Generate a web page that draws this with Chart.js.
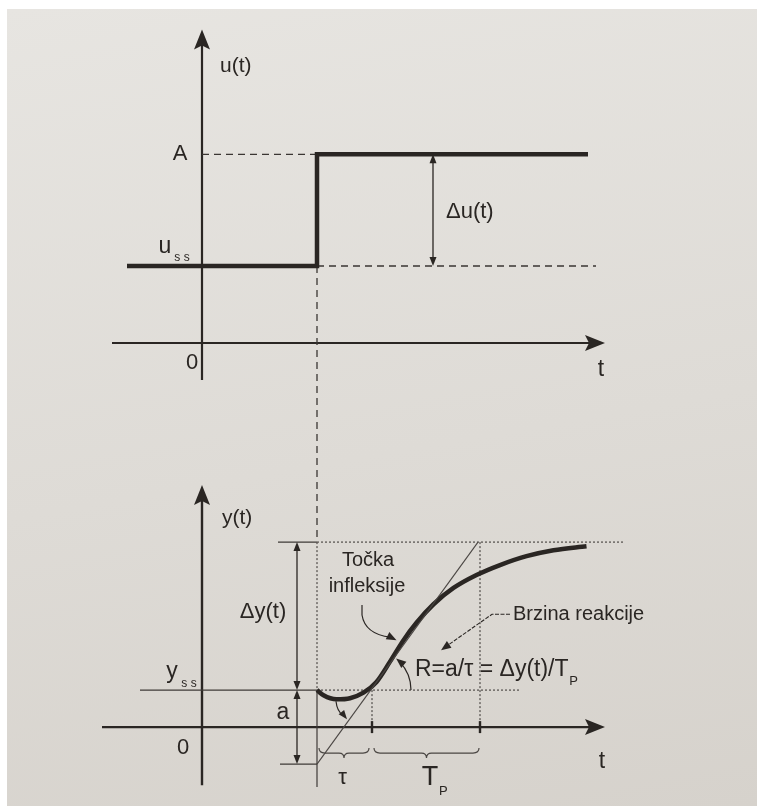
<!DOCTYPE html>
<html>
<head>
<meta charset="utf-8">
<script src="https://cdn.jsdelivr.net/npm/chart.js@4/dist/chart.umd.min.js"></script>
<style>
  html, body { margin: 0; padding: 0; background: #fff; }
  #wrap {
    position: absolute; left: 7px; top: 9px; width: 750px; height: 797px;
    background: linear-gradient(170deg, #e7e5e1 0%, #dedbd6 55%, #d6d2cc 100%);
  }
  canvas { position: absolute; left: 0; top: 0; }
</style>
</head>
<body>
<div id="wrap"></div>
<canvas id="chart" width="757" height="806"></canvas>
<script>
// Step input u(t)
const stepT = [-1.5, 2.3, 2.3, 7.72];
const stepU = [1, 1, 2.45, 2.45];

// Process reaction curve y(t)
const respT = [2.3, 2.43, 2.69, 2.96, 3.23, 3.49, 3.76, 4.03, 4.29, 4.63, 5.03, 5.49, 5.96, 6.49, 7.03, 7.69];
const respY = [1.0, 0.86, 0.75, 0.78, 0.93, 1.22, 1.77, 2.35, 2.82, 3.32, 3.76, 4.11, 4.38, 4.62, 4.78, 4.89];

// Tangent through the inflection point
const tangentT = [2.3, 5.52];
const tangentY = [-1, 5];

// Levels and times marked on the axes
const uSS = 1, uA = 2.45;
const ySS = 1, yEnd = 5, aLow = -1;
const tStep = 2.3, tTau = 3.4, tP = 5.56;

const toXY = (xs, ys) => xs.map((x, i) => ({ x: x, y: ys[i] }));

const INK = '#2a2623';
const FONT = '"Liberation Sans", Arial, sans-serif';

const annotations = {
  id: 'annotations',
  beforeDatasetsDraw(chart) {
    const ctx = chart.ctx;
    const sx = chart.scales.x, su = chart.scales.yU, sy = chart.scales.yY;
    const X = v => sx.getPixelForValue(v);
    const YU = v => su.getPixelForValue(v);
    const YY = v => sy.getPixelForValue(v);

    const line = (x1, y1, x2, y2, w, dash, col) => {
      ctx.save();
      ctx.strokeStyle = col || INK;
      ctx.lineWidth = w;
      ctx.setLineDash(dash || []);
      ctx.beginPath();
      ctx.moveTo(x1, y1);
      ctx.lineTo(x2, y2);
      ctx.stroke();
      ctx.restore();
    };
    const head = (x, y, ang, len, half) => {
      ctx.save();
      ctx.fillStyle = INK;
      ctx.translate(x, y);
      ctx.rotate(ang);
      ctx.beginPath();
      ctx.moveTo(0, 0);
      ctx.lineTo(-len, -half);
      ctx.lineTo(-len * 0.8, 0);
      ctx.lineTo(-len, half);
      ctx.closePath();
      ctx.fill();
      ctx.restore();
    };

    // axes, top panel
    line(X(-1.8), YU(0), X(8.06) - 10, YU(0), 2.2);
    head(X(8.06), YU(0), 0, 20, 8);
    line(X(0), YU(-0.48), X(0), YU(4.07) + 10, 2.2);
    head(X(0), YU(4.07), -Math.PI / 2, 20, 8);

    // axes, bottom panel
    line(X(-2.0), YY(0), X(8.06) - 10, YY(0), 2.4);
    head(X(8.06), YY(0), 0, 20, 8);
    line(X(0), YY(-1.57), X(0), YY(6.54) + 10, 2.4);
    head(X(0), YY(6.54), -Math.PI / 2, 20, 8);

    // dashed guides, top panel
    const dash = [7, 5];
    line(X(0), YU(uA), X(tStep), YU(uA), 1.3, dash, '#3a3633');
    line(X(tStep), YU(uSS), X(7.88), YU(uSS), 1.3, dash, '#3a3633');
    line(X(tStep), YU(uSS), X(tStep), YY(yEnd), 1.3, dash, '#3a3633');

    // guides, bottom panel
    const dot = [2, 2];
    const thin = '#3e3a37', dotted = '#5a5653';
    line(X(1.52), YY(yEnd), X(tStep), YY(yEnd), 1.2, null, thin);
    line(X(tStep), YY(yEnd), X(8.46), YY(yEnd), 1.3, dot, dotted);
    line(X(-1.24), YY(ySS), X(tStep), YY(ySS), 1.2, null, thin);
    line(X(tStep), YY(ySS), X(6.36), YY(ySS), 1.3, dot, dotted);
    line(X(1.56), YY(aLow), X(tStep), YY(aLow), 1.2, null, thin);
    line(X(tStep), YY(yEnd), X(tStep), YY(ySS), 1.3, dot, dotted);
    line(X(tStep), YY(ySS), X(tStep), YY(-1.62), 1.2, null, thin);
    line(X(tTau), YY(ySS), X(tTau), YY(0), 1.3, dot, dotted);
    line(X(tP), YY(yEnd), X(tP), YY(0), 1.3, dot, dotted);
    line(X(tTau), YY(0) - 6, X(tTau), YY(0) + 6, 2.4);
    line(X(tP), YY(0) - 6, X(tP), YY(0) + 6, 2.4);
  },
  afterDatasetsDraw(chart) {
    const ctx = chart.ctx;
    const sx = chart.scales.x, su = chart.scales.yU, sy = chart.scales.yY;
    const X = v => sx.getPixelForValue(v);
    const YU = v => su.getPixelForValue(v);
    const YY = v => sy.getPixelForValue(v);

    const head = (x, y, ang, len, half) => {
      ctx.save();
      ctx.fillStyle = INK;
      ctx.translate(x, y);
      ctx.rotate(ang);
      ctx.beginPath();
      ctx.moveTo(0, 0);
      ctx.lineTo(-len, -half);
      ctx.lineTo(-len, half);
      ctx.closePath();
      ctx.fill();
      ctx.restore();
    };
    const dimArrow = (x, y1, y2) => {
      ctx.save();
      ctx.strokeStyle = INK;
      ctx.lineWidth = 1.3;
      ctx.beginPath();
      ctx.moveTo(x, y1 + 6);
      ctx.lineTo(x, y2 - 6);
      ctx.stroke();
      ctx.restore();
      head(x, y1, -Math.PI / 2, 9, 3.5);
      head(x, y2, Math.PI / 2, 9, 3.5);
    };
    const text = (s, x, y, size, align) => {
      ctx.save();
      ctx.fillStyle = INK;
      ctx.font = size + 'px ' + FONT;
      ctx.textAlign = align || 'center';
      ctx.textBaseline = 'middle';
      ctx.fillText(s, x, y);
      const w = ctx.measureText(s).width;
      ctx.restore();
      return w;
    };
    const brace = (x1, x2, y) => {
      const mid = (x1 + x2) / 2, y1 = y + 5, y2 = y + 10;
      ctx.save();
      ctx.strokeStyle = '#4a4643';
      ctx.lineWidth = 1.2;
      ctx.beginPath();
      ctx.moveTo(x1, y);
      ctx.quadraticCurveTo(x1, y1, x1 + 6, y1);
      ctx.lineTo(mid - 5, y1);
      ctx.quadraticCurveTo(mid, y1, mid, y2);
      ctx.quadraticCurveTo(mid, y1, mid + 5, y1);
      ctx.lineTo(x2 - 6, y1);
      ctx.quadraticCurveTo(x2, y1, x2, y);
      ctx.stroke();
      ctx.restore();
    };

    // top panel labels
    text('u(t)', X(0) + 18, YU(3.6), 21, 'left');
    text('A', X(0) - 22, YU(uA), 22);
    text('u', X(0) - 37, YU(uSS) - 19, 23);
    text('s s', X(0) - 20, YU(uSS) - 8, 12);
    dimArrow(X(4.62), YU(uA), YU(uSS));
    text('\u0394u(t)', X(4.62) + 13, (YU(uA) + YU(uSS)) / 2 + 2, 22, 'left');
    text('0', X(0) - 10, YU(0) + 20, 22);
    text('t', X(8.06) - 4, YU(0) + 27, 23);

    // bottom panel labels
    text('y(t)', X(0) + 20, YY(5.65), 21, 'left');
    dimArrow(X(1.9), YY(yEnd), YY(ySS));
    dimArrow(X(1.9), YY(ySS), YY(aLow));
    text('\u0394y(t)', X(1.9) - 34, (YY(yEnd) + YY(ySS)) / 2 - 4, 22);
    text('y', X(0) - 30, YY(ySS) - 18, 23);
    text('s s', X(0) - 13, YY(ySS) - 6, 12);
    text('a', X(1.9) - 14, (YY(ySS) + YY(0)) / 2 + 4, 23);
    text('0', X(0) - 19, YY(0) + 21, 22);
    text('t', X(8.06) - 3, YY(0) + 35, 23);

    brace(X(tStep) + 2, X(tTau) - 3, YY(0) + 21);
    brace(X(tTau) + 2, X(tP) - 1, YY(0) + 21);
    text('\u03c4', (X(tStep) + X(tTau)) / 2 - 2, YY(0) + 51, 22);
    const tw = text('T', (X(tTau) + X(tP)) / 2 + 4, YY(0) + 50, 27);
    text('P', (X(tTau) + X(tP)) / 2 + 4 + tw / 2 + 5, YY(0) + 64, 13);

    // inflection point note
    text('To\u010dka', X(3.32), YY(4.5), 20);
    text('infleksije', X(3.3), YY(3.8), 20);
    ctx.save();
    ctx.strokeStyle = INK;
    ctx.lineWidth = 1.2;
    ctx.beginPath();
    const ax = X(3.2), ay = YY(3.3);
    const ex = X(4.03) - 7, ey = YY(2.35);
    ctx.moveTo(ax, ay);
    ctx.lineTo(ax, ay + 10);
    ctx.quadraticCurveTo(ax + 3, ey - 6, ex - 6, ey - 3);
    ctx.stroke();
    ctx.restore();
    head(ex, ey, Math.atan2(3, 6), 10, 4);

    // reaction rate note
    text('Brzina reakcije', X(6.22), YY(3.05), 20, 'left');
    ctx.save();
    ctx.strokeStyle = INK;
    ctx.lineWidth = 1.1;
    ctx.setLineDash([4, 1.5]);
    ctx.beginPath();
    const bx = X(6.2), by = YY(3.05);
    const bex = X(4.78), bey = YY(2.08);
    ctx.moveTo(bx - 2, by);
    ctx.lineTo(bx - 20, by);
    ctx.lineTo(bex + 7, bey - 5);
    ctx.stroke();
    ctx.restore();
    head(bex, bey, Math.atan2(bey - by, bex - (bx - 20)), 10, 4);

    const rw = text('R=a/\u03c4 = \u0394y(t)/T', X(4.26), YY(1.55), 23, 'left');
    text('P', X(4.26) + rw + 5, YY(1.55) + 12, 13);

    // angle arc between tangent and y_ss level
    const cx = X(tTau) - 2, cy = YY(ySS);
    const r = 41, endA = -0.88;
    ctx.save();
    ctx.strokeStyle = INK;
    ctx.lineWidth = 1.2;
    ctx.beginPath();
    ctx.arc(cx, cy, r, 0, endA + 0.12, true);
    ctx.stroke();
    ctx.restore();
    head(cx + r * Math.cos(endA), cy + r * Math.sin(endA), endA - Math.PI / 2, 10, 4);

    // small arrow from the dip towards the tangent
    ctx.save();
    ctx.strokeStyle = INK;
    ctx.lineWidth = 1.2;
    ctx.beginPath();
    const dx = X(2.68), dy = YY(0.7);
    ctx.moveTo(dx, dy);
    ctx.quadraticCurveTo(dx + 1, dy + 10, dx + 7, dy + 14);
    ctx.stroke();
    ctx.restore();
    head(dx + 11, dy + 18, Math.atan2(5, 4), 9, 3.5);
  }
};

new Chart(document.getElementById('chart').getContext('2d'), {
  type: 'scatter',
  data: {
    datasets: [
      {
        label: 'u(t)',
        data: toXY(stepT, stepU),
        yAxisID: 'yU',
        showLine: true,
        borderColor: INK,
        borderWidth: 4.5,
        pointRadius: 0,
        tension: 0,
        borderJoinStyle: 'miter',
        clip: false
      },
      {
        label: 'tangenta',
        data: toXY(tangentT, tangentY),
        yAxisID: 'yY',
        showLine: true,
        borderColor: '#4a4643',
        borderWidth: 1.1,
        pointRadius: 0,
        clip: false
      },
      {
        label: 'y(t)',
        data: toXY(respT, respY),
        yAxisID: 'yY',
        showLine: true,
        borderColor: INK,
        borderWidth: 4.5,
        pointRadius: 0,
        cubicInterpolationMode: 'monotone',
        clip: false
      }
    ]
  },
  options: {
    responsive: false,
    animation: false,
    events: [],
    layout: { padding: { left: 100, right: 117, top: 30, bottom: 16 } },
    plugins: { legend: { display: false }, tooltip: { enabled: false } },
    scales: {
      x: { type: 'linear', min: -2.04, max: 8.76, display: false },
      yU: { type: 'linear', position: 'left', min: -5.805, max: 4.065, display: false },
      yY: { type: 'linear', position: 'left', min: -1.70, max: 18.84, display: false }
    }
  },
  plugins: [annotations]
});
</script>
</body>
</html>
